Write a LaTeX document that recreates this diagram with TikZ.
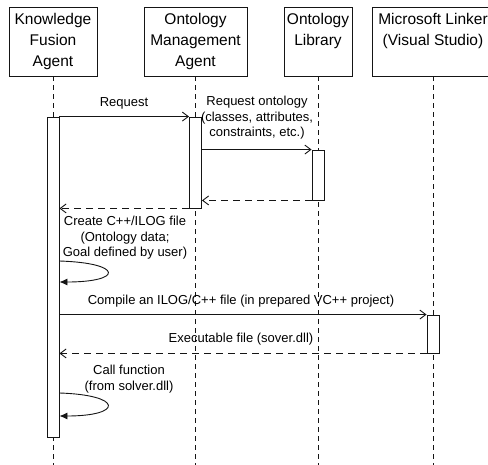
\documentclass[tikz,border=0pt]{standalone}
\usepackage{fontspec}
\setmainfont{Liberation Sans}
\usetikzlibrary{positioning,arrows.meta,calc}
\definecolor{ink}{HTML}{151515}
\tikzset{
  headbox/.style = {rectangle, draw=ink, line width=0.9pt, minimum height=69pt, inner sep=0pt},
  headtxt/.style = {align=center, inner sep=0pt, font=\fontsize{15.5}{21}\selectfont},
  life/.style    = {draw=ink, line width=0.9pt, dash pattern=on 5pt off 4pt},
  act/.style     = {rectangle, draw=ink, fill=white, line width=0.9pt, minimum width=12pt, inner sep=0pt},
  call/.style    = {-{Straight Barb[length=6pt,width=9pt]}, line width=0.9pt, draw=ink},
  reply/.style   = {call, dash pattern=on 7pt off 5pt},
  self/.style    = {-{Latex[length=8pt,width=7pt]}, line width=0.9pt, draw=ink},
  msgtxt/.style  = {align=center, inner sep=0pt, font=\fontsize{13}{15.5}\selectfont},
}

\begin{document}
\begin{tikzpicture}[x=1pt, y=-1pt]
  \useasboundingbox (0,0) rectangle (488,464);
  \coordinate (bot) at (0,470);
  % lifeline heads
  \node[headbox, minimum width=88pt]  (kfa) at (53,41.5) {};
  \node[headbox, minimum width=103pt] (oma) at (195.5,41.5) {};
  \node[headbox, minimum width=68pt]  (olib) at (318,41.5) {};
  \node[headbox, minimum width=122pt] (msl) at (433,41.5) {};
  \node[headtxt, below=7pt of kfa.north]  (kfatxt) {Knowledge\\Fusion\\Agent};
  \node[headtxt, below=7pt of oma.north]  (omatxt) {Ontology\\Management\\Agent};
  \node[headtxt, below=7pt of olib.north] (olibtxt) {Ontology\\Library};
  \node[headtxt, below=7pt of msl.north]  (msltxt) {Microsoft Linker\\(Visual Studio)};
  \draw[life] (kfa.south) -- (kfa.south |- bot);
  \draw[life] (oma.south) -- (oma.south |- bot);
  \draw[life] (olib.south) -- (olib.south |- bot);
  \draw[life] (msl.south) -- (msl.south |- bot);
  % activations
  \node[act, minimum height=320pt] (act1) at (53,277) {};
  \node[act, minimum height=91pt]  (act2) at (195.5,162.5) {};
  \node[act, minimum height=50pt]  (act3) at (318,175) {};
  \node[act, minimum height=38pt]  (act4) at (433,334) {};
  % messages
  \draw[call]  (act1.north east) -- (act2.north west);
  \draw[call]  (act2.east |- act3.north) -- (act3.north west);
  \draw[reply] (act3.south west) -- (act2.east |- act3.south);
  \draw[reply] (act2.south west) -- (act1.east |- act2.south);
  \draw[self]  (act1.east |- 0,261) .. controls +(64,2) and +(64,0) .. (act1.east |- 0,282);
  \draw[call]  (act1.east |- act4.north) -- (act4.north west);
  \draw[reply] (act4.south west) -- (act1.east |- act4.south);
  \draw[self]  (act1.east |- 0,393) .. controls +(64,2) and +(64,0) .. (act1.east |- 0,416);
  % labels
  \node[msgtxt] (lreq) at (124,103) {Request};
  \node[msgtxt] (lont) at (257,118) {Request ontology\\(classes, attributes,\\constraints, etc.)};
  \node[msgtxt] (lcre) at (125,238) {Create C++/ILOG file\\(Ontology data;\\Goal defined by user)};
  \node[msgtxt] (lcmp) at (241,301) {Compile an ILOG/C++ file (in prepared VC++ project)};
  \node[msgtxt] (lexe) at (241,339) {Executable file (sover.dll)};
  \node[msgtxt] (lcal) at (129,379) {Call function\\(from solver.dll)};
\end{tikzpicture}
\end{document}
